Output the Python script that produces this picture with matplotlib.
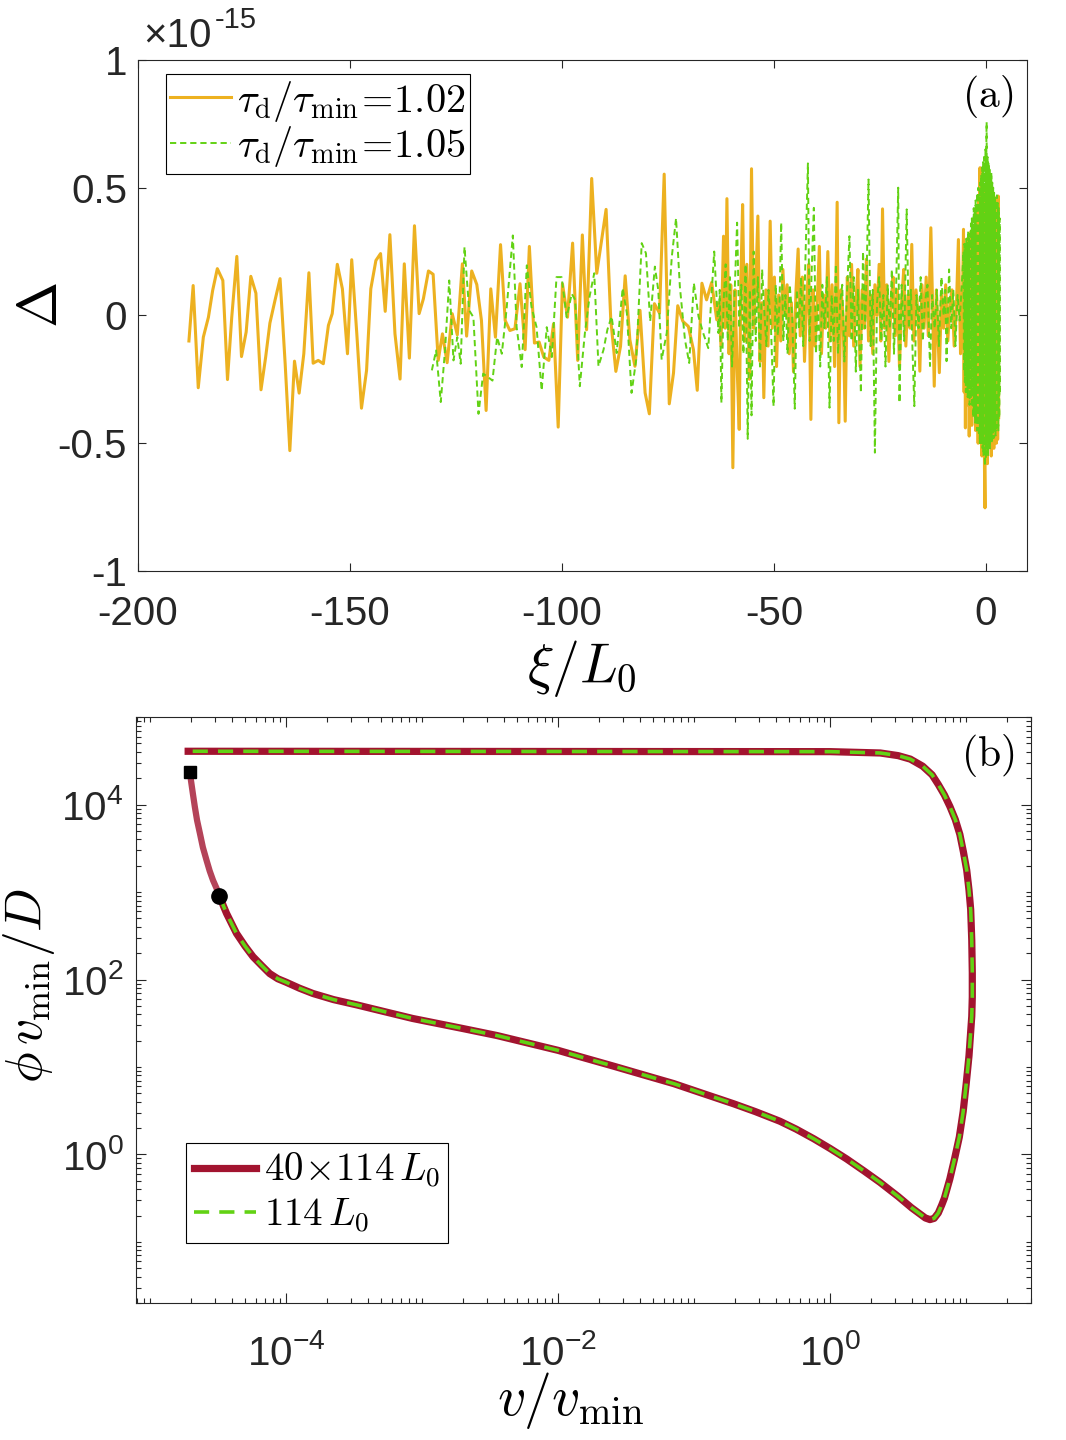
import numpy as np
import matplotlib
matplotlib.use('Agg')
import matplotlib.pyplot as plt
from matplotlib.ticker import FixedLocator, LogLocator, NullFormatter

plt.rcParams['font.family'] = ['Liberation Sans', 'DejaVu Sans']
plt.rcParams['mathtext.fontset'] = 'cm'

# ---- panel (a): residual Delta vs xi/L0 (values in units of 1e-15)
xi_102 = [
    -188.0, -187.0, -185.8, -184.6, -183.4, -182.4, -181.3, -180.0, -178.9, -177.9,
    -176.7, -175.6, -174.5, -173.4, -172.2, -171.0, -169.9, -168.9, -167.7, -166.5,
    -165.3, -164.2, -163.1, -162.0, -160.9, -159.7, -158.7, -157.5, -156.3, -155.1,
    -154.2, -153.0, -151.8, -150.6, -149.6, -148.4, -147.3, -146.1, -145.1, -143.9,
    -142.8, -141.7, -140.6, -139.4, -138.2, -137.2, -136.0, -134.8, -133.7, -132.7,
    -131.5, -130.4, -129.2, -128.2, -127.1, -125.9, -124.7, -123.5, -122.5, -121.3,
    -120.1, -119.0, -117.9, -116.8, -115.7, -114.5, -113.4, -112.3, -111.1, -109.9,
    -108.7, -107.7, -106.5, -105.4, -104.3, -103.1, -102.0, -100.9, -99.9, -98.7,
    -97.5, -96.3, -95.2, -94.2, -93.0, -91.8, -89.6, -88.5, -87.3, -86.2,
    -85.1, -84.0, -82.8, -81.6, -80.4, -79.4, -78.2, -77.0, -75.9, -74.7,
    -73.7, -72.7, -71.5, -70.2, -69.0, -68.1, -67.0, -65.9, -64.7, -63.5,
    -63.0, -62.5, -61.9, -61.5, -61.1, -60.6, -60.2, -59.7, -59.2, -58.7,
    -58.2, -57.8, -57.4, -56.9, -56.4, -55.8, -55.3, -54.8, -54.3, -53.8,
    -53.3, -52.8, -52.4, -51.9, -51.4, -50.9, -50.4, -49.9, -49.4, -48.9,
    -48.4, -47.9, -47.4, -46.9, -46.4, -45.9, -45.4, -44.8, -44.3, -43.8,
    -43.3, -42.8, -42.3, -41.8, -41.3, -40.8, -40.3, -39.8, -39.3, -38.8,
    -38.3, -37.8, -37.3, -36.8, -36.3, -35.7, -35.1, -34.7, -34.2, -33.7,
    -33.2, -32.7, -32.2, -31.7, -31.2, -30.7, -30.2, -29.7, -29.2, -28.7,
    -28.2, -27.7, -27.2, -26.7, -26.2, -25.7, -25.2, -24.8, -24.4, -23.9,
    -23.4, -22.9, -22.4, -21.9, -21.4, -20.9, -20.4, -19.9, -19.4, -18.9,
    -18.4, -17.9, -17.5, -17.0, -16.5, -16.0, -15.6, -15.1, -14.6, -14.1,
    -13.6, -13.0, -12.6, -12.2, -11.7, -11.0, -10.5, -10.0, -9.5, -9.0,
    -8.5, -8.0, -7.5, -7.0, -6.5, -6.0, -5.5,
    -5.3, -5.15, -5.0, -4.85, -4.7, -4.55, -4.4, -4.25, -4.1, -3.95,
    -3.8, -3.65, -3.5, -3.35, -3.2, -3.05, -2.9, -2.75, -2.6, -2.45,
    -2.3, -2.15, -2.0, -1.85, -1.7, -1.55, -1.4, -1.25, -1.1, -0.95,
    -0.8, -0.65, -0.5, -0.35, -0.23, -0.1, 0.05, 0.2, 0.35, 0.5,
    0.65, 0.8, 0.95, 1.1, 1.25, 1.4, 1.55, 1.7, 1.85, 2.0,
    2.15, 2.3, 2.45, 2.6, 2.75, 2.9, 3.0,
]
d_102 = [
    -0.100, 0.117, -0.283, -0.085, -0.007, 0.098, 0.183, 0.137, -0.251, -0.007,
    0.231, -0.161, -0.065, 0.153, 0.087, -0.291, -0.163, -0.030, 0.059, 0.144,
    -0.189, -0.529, -0.179, -0.304, -0.150, 0.167, -0.187, -0.176, -0.189, -0.039,
    0.007, 0.200, 0.104, -0.150, 0.218, -0.072, -0.363, -0.215, 0.104, 0.215,
    0.242, 0.016, 0.316, -0.072, -0.249, 0.202, -0.167, 0.351, 0.007, 0.065,
    0.174, 0.161, -0.176, -0.072, -0.185, 0.007, -0.076, 0.202, -0.081, 0.174,
    0.121, -0.020, -0.372, 0.104, -0.085, 0.277, -0.020, -0.059, -0.052, 0.124,
    -0.134, 0.270, -0.108, -0.104, -0.163, -0.176, -0.033, -0.437, 0.124, -0.007,
    0.283, -0.176, 0.315, -0.056, 0.536, 0.165, 0.415, -0.017, -0.219, -0.121,
    0.155, -0.095, -0.199, 0.020, -0.303, -0.385, 0.046, 0.009, 0.553, -0.346,
    -0.225, 0.038, -0.023, -0.043, -0.134, -0.293, 0.126, 0.061, 0.129, -0.017,
    0.05, -0.12, 0.31, -0.05, 0.457, -0.15, 0.12, -0.596, 0.10, -0.20,
    -0.446, 0.15, 0.434, -0.10, 0.20, -0.25, 0.574, -0.05, 0.12, 0.389,
    -0.18, 0.05, -0.322, 0.10, -0.12, 0.369, -0.05, 0.15, -0.20, 0.08,
    -0.10, 0.18, 0.00, 0.12, -0.15, 0.05, -0.22, 0.10, 0.26, -0.08,
    0.15, -0.18, 0.05, 0.20, -0.407, 0.10, -0.12, 0.05, 0.27, -0.15,
    0.08, -0.05, 0.25, -0.10, 0.12, -0.20, 0.443, -0.42, 0.10, 0.00,
    -0.414, 0.15, -0.08, 0.20, -0.12, 0.05, 0.18, -0.20, 0.10, -0.05,
    0.22, -0.10, 0.08, -0.15, 0.12, 0.00, 0.20, -0.10, 0.417, -0.05,
    0.12, -0.18, 0.05, 0.15, -0.08, 0.10, -0.20, 0.05, 0.18, -0.12,
    0.08, -0.05, 0.278, -0.10, 0.10, 0.00, -0.218, 0.12, -0.05, 0.15,
    -0.08, 0.343, 0.05, -0.277, 0.10, -0.224, 0.08, -0.05, 0.12, -0.10,
    0.05, 0.10, -0.12, 0.02, 0.297, -0.15, 0.10,
    0.337, -0.30, 0.20, -0.44, 0.25, -0.20, 0.30, -0.35, 0.15, -0.472,
    0.28, -0.25, 0.33, -0.43, 0.22, -0.30, 0.35, -0.38, 0.27, -0.45,
    0.40, -0.33, 0.30, -0.50, 0.45, -0.40, 0.578, -0.45, 0.42, -0.55,
    0.50, -0.48, 0.45, -0.60, -0.753, 0.48, -0.52, 0.50, -0.58, 0.44,
    -0.50, 0.52, -0.45, 0.48, -0.55, 0.42, -0.48, 0.45, -0.52, 0.40,
    -0.47, 0.46, -0.50, 0.44, -0.485, 0.467, -0.40,
]

xi_105 = [
    -130.7, -129.7, -128.6, -127.6, -126.6, -125.6, -124.7, -123.9, -123.0, -121.9,
    -120.9, -119.7, -118.6, -117.4, -116.4, -115.3, -114.2, -113.1, -111.6, -110.7,
    -109.5, -108.3, -107.2, -106.0, -104.8, -103.6, -102.4, -101.3, -100.1, -98.9,
    -97.7, -96.9, -95.8, -94.6, -93.5, -92.4, -91.4, -90.2, -89.3, -88.3,
    -87.1, -85.7, -84.7, -83.6, -82.5, -81.2, -80.2, -79.2, -78.1, -77.3,
    -76.5, -75.3, -74.1, -73.1, -72.2, -71.0, -70.0, -68.9, -67.8, -66.7,
    -65.5, -64.1, -63.1,
    -62.8, -62.4, -61.9, -61.4, -60.9, -60.4, -59.9, -59.3, -58.7, -58.2,
    -57.7, -57.2, -56.7, -56.2, -55.7, -55.3, -54.8, -54.3, -53.8, -53.3,
    -52.8, -52.3, -51.8, -51.3, -50.7, -50.1, -49.6, -49.1, -48.7, -48.3,
    -47.8, -47.3, -46.8, -46.3, -45.7, -45.1, -44.6, -44.1, -43.6, -43.1,
    -42.6, -42.0, -41.6, -41.1, -40.6, -40.1, -39.6, -39.1, -38.6, -38.1,
    -37.5, -36.9, -36.4, -35.9, -35.4, -34.9, -34.4, -33.9, -33.4, -32.8,
    -32.2, -31.7, -31.2, -30.7, -30.2, -29.5, -29.0, -28.5, -28.1, -27.7,
    -27.2, -26.7, -26.2, -25.7, -25.2, -24.7, -24.2, -23.7, -23.2, -22.7,
    -22.2, -21.7, -21.2, -20.7, -20.4, -19.9, -19.3, -18.7, -18.2, -17.7,
    -17.3, -16.9, -16.4, -15.9, -15.4, -14.9, -14.4, -13.8, -13.2, -12.7,
    -12.1, -11.6, -11.1, -10.5, -10.0, -9.6, -9.3, -8.7, -8.2, -7.7,
    -7.2, -6.7, -6.2, -5.7,
    -5.30, -5.19, -5.08, -4.97, -4.86, -4.75, -4.64, -4.53, -4.42, -4.31,
    -4.20, -4.09, -3.98, -3.87, -3.76, -3.65, -3.54, -3.43, -3.32, -3.21,
    -3.10, -2.99, -2.88, -2.77, -2.66, -2.55, -2.44, -2.33, -2.22, -2.11,
    -2.00, -1.89, -1.78, -1.67, -1.56, -1.45, -1.34, -1.23, -1.12, -1.01,
    -0.90, -0.79, -0.68, -0.57, -0.46, -0.35, -0.23, -0.12, -0.01, 0.10,
    0.16, 0.27, 0.38, 0.49, 0.60, 0.71, 0.82, 0.93, 1.04, 1.15,
    1.26, 1.37, 1.48, 1.59, 1.70, 1.81, 1.92, 2.03, 2.14, 2.25,
    2.36, 2.47, 2.58, 2.69, 2.80, 2.91, 3.02, 3.13, 3.24, 3.30,
]
d_105 = [
    -0.215, -0.137, -0.339, -0.137, 0.137, -0.176, -0.085, -0.189, 0.268, 0.020,
    -0.007, -0.385, -0.228, -0.242, -0.255, -0.085, -0.150, 0.020, 0.313, -0.046,
    -0.202, 0.196, 0.033, -0.046, -0.294, -0.046, -0.163, 0.150, 0.150, -0.007,
    0.085, 0.061, -0.277, -0.069, 0.074, 0.165, -0.199, -0.134, -0.056, -0.004,
    -0.147, 0.107, 0.009, -0.303, -0.173, 0.283, 0.243, -0.023, 0.191, 0.100,
    -0.173, -0.069, 0.230, 0.380, 0.113, -0.095, -0.186, 0.126, -0.004, -0.069,
    -0.128, 0.250, -0.069,
    0.10, -0.342, 0.05, 0.20, -0.10, 0.15, -0.20, 0.08, 0.363, -0.05,
    0.12, -0.15, 0.20, -0.483, 0.10, -0.391, 0.25, -0.10, 0.15, -0.20,
    0.18, 0.02, -0.12, 0.10, -0.05, -0.355, 0.12, -0.08, 0.05, 0.363,
    -0.10, 0.08, -0.15, 0.12, 0.00, -0.365, 0.10, -0.05, 0.15, -0.12,
    0.20, 0.595, -0.10, 0.18, 0.421, -0.15, 0.05, -0.20, 0.12, -0.05,
    0.15, -0.361, 0.08, -0.10, 0.20, -0.15, 0.05, 0.12, -0.18, 0.08,
    0.31, -0.10, 0.15, -0.22, 0.10, -0.303, 0.25, -0.05, 0.20, 0.532,
    -0.12, 0.10, -0.537, 0.05, 0.15, -0.10, 0.08, -0.20, 0.12, -0.05,
    0.18, -0.15, 0.10, 0.50, -0.342, 0.12, -0.10, 0.415, -0.05, 0.10,
    -0.15, -0.355, 0.08, -0.05, 0.15, -0.10, 0.05, 0.12, -0.198, 0.08,
    -0.05, 0.10, -0.12, 0.15, 0.00, 0.10, -0.179, 0.18, -0.05, 0.10,
    -0.12, 0.08, -0.02, 0.12,
    0.25, -0.22, 0.28, -0.26, 0.22, -0.30, 0.30, -0.25, 0.27, -0.32,
    0.33, -0.28, 0.30, -0.35, 0.32, -0.33, 0.36, -0.30, 0.38, -0.36,
    0.35, -0.40, 0.42, -0.38, 0.40, -0.42, 0.45, -0.40, 0.44, -0.45,
    0.48, -0.43, 0.50, -0.47, 0.46, -0.50, 0.52, -0.48, 0.55, -0.50,
    0.58, -0.52, 0.60, -0.55, 0.62, -0.54, -0.59, 0.65, -0.56, 0.70,
    0.757, -0.52, 0.62, -0.55, 0.60, -0.50, 0.58, -0.52, 0.55, -0.48,
    0.56, -0.50, 0.52, -0.46, 0.50, -0.48, 0.48, -0.45, 0.46, -0.47,
    0.45, -0.44, 0.47, -0.42, 0.44, -0.45, 0.42, -0.40, 0.38, -0.30,
]

# ---- panel (b): limit cycle in (v/vmin, phi vmin/D)
# transient from the initial state (square) to the circle
v_start = [1.98e-5, 2.00e-5, 2.07e-5, 2.14e-5, 2.22e-5, 2.33e-5, 2.45e-5,
           2.61e-5, 2.75e-5, 2.91e-5, 3.09e-5, 3.24e-5]
phi_start = [2.38e4, 1.91e4, 1.32e4, 9.33e3, 6.61e3, 4.68e3, 3.24e3,
             2.29e3, 1.74e3, 1.36e3, 1.10e3, 912]

# cycle, 40 x 114 L0 domain
v_long = [3.24e-5, 3.47e-5, 3.66e-5, 3.98e-5, 4.33e-5, 5.01e-5, 5.73e-5, 6.61e-5,
          7.59e-5, 8.71e-5, 1.0e-4, 1.26e-4, 1.58e-4, 2.24e-4, 3.31e-4, 5.37e-4,
          8.51e-4, 2.0e-3, 3.55e-3, 6.17e-3, 1.0e-2, 1.43e-2, 2.57e-2, 4.47e-2,
          7.08e-2, 0.105, 0.195, 0.282, 0.427, 0.562, 0.759, 1.0, 1.32, 1.78,
          2.33, 3.16, 3.98, 4.57, 5.01, 5.42, 5.82, 6.24, 6.61, 6.92, 7.59, 8.22,
          8.91, 9.51, 10.0, 10.5, 11.0, 11.1, 11.1, 11.0, 10.8, 10.5, 10.1, 9.55,
          8.99, 8.32, 7.59, 6.92, 6.24, 5.62, 4.79, 3.89, 3.16, 2.34, 1.0, 1.91e-5]
phi_long = [912, 692, 568, 437, 336, 240, 182, 145, 117, 102, 93.3, 79.4, 69.2,
            58.9, 51.3, 42.7, 35.9, 27.5, 22.9, 18.6, 15.5, 13.2, 10.2, 7.94,
            6.46, 5.25, 3.80, 3.09, 2.40, 1.95, 1.51, 1.17, 0.891, 0.646, 0.479,
            0.331, 0.245, 0.209, 0.188, 0.180, 0.186, 0.214, 0.263, 0.316, 0.525,
            0.891, 1.58, 3.09, 6.31, 13.5, 38.0, 63.1, 120, 282, 631, 1050, 1780,
            2880, 4570, 6760, 9550, 1.29e4, 1.70e4, 2.19e4, 2.75e4, 3.31e4,
            3.63e4, 3.89e4, 4.03e4, 4.07e4]

# cycle, 114 L0 domain
v_short = [3.24e-5, 3.47e-5, 3.66e-5, 3.98e-5, 4.33e-5, 5.01e-5, 5.73e-5, 6.61e-5,
           7.59e-5, 8.71e-5, 1.0e-4, 1.26e-4, 1.58e-4, 2.24e-4, 3.31e-4, 5.37e-4,
           8.51e-4, 2.0e-3, 3.55e-3, 6.17e-3, 1.0e-2, 1.43e-2, 2.57e-2, 4.47e-2,
           7.08e-2, 0.105, 0.195, 0.282, 0.427, 0.562, 0.759, 1.0, 1.32, 1.78,
           2.33, 3.16, 3.98, 4.57, 5.01, 5.42, 5.82, 6.24, 6.61, 6.92, 7.59, 8.22,
           8.91, 9.51, 10.0, 10.5, 11.0, 11.1, 11.1, 11.0, 10.8, 10.5, 10.1, 9.55,
           8.99, 8.32, 7.59, 6.92, 6.24, 5.62, 4.79, 3.89, 3.16, 2.34, 1.0, 2.02e-5]
phi_short = [912, 692, 568, 437, 336, 240, 182, 145, 117, 102, 93.3, 79.4, 69.2,
             58.9, 51.3, 42.7, 35.9, 27.5, 22.9, 18.6, 15.5, 13.2, 10.2, 7.94,
             6.46, 5.25, 3.80, 3.09, 2.40, 1.95, 1.51, 1.17, 0.891, 0.646, 0.479,
             0.331, 0.245, 0.209, 0.188, 0.180, 0.186, 0.214, 0.263, 0.316, 0.525,
             0.891, 1.58, 3.09, 6.31, 13.5, 38.0, 63.1, 120, 282, 631, 1050, 1780,
             2880, 4570, 6760, 9550, 1.29e4, 1.70e4, 2.19e4, 2.75e4, 3.31e4,
             3.63e4, 3.89e4, 4.03e4, 4.07e4]

orange = '#EDB120'
green = '#62D214'
red = '#A2142F'
axcol = '#262626'

fig = plt.figure(figsize=(10.66, 14.4), dpi=100)

# ---------------- (a)
ax1 = fig.add_axes([0.1295, 0.6035, 0.834, 0.3549])
ax1.plot(xi_102, d_102, color=orange, lw=2.2, label=r'$\tau_{\rm d}/\tau_{\rm min}\!=\!1.02$')
ax1.plot(xi_105, d_105, color=green, lw=1.4, dashes=(3.2, 2.0),
         label=r'$\tau_{\rm d}/\tau_{\rm min}\!=\!1.05$')
ax1.set_xlim(-200, 9.7)
ax1.set_ylim(-1, 1)
ax1.set_xticks([-200, -150, -100, -50, 0])
ax1.set_xticklabels(['-200', '-150', '-100', '-50', '0'])
ax1.set_yticks([-1, -0.5, 0, 0.5, 1])
ax1.set_yticklabels(['-1', '-0.5', '0', '0.5', '1'])
ax1.tick_params(direction='in', top=True, right=True, length=6, width=0.8,
                labelsize=29, colors=axcol)
ax1.tick_params(axis='x', pad=17)
ax1.tick_params(axis='y', pad=8)
ax1.set_xlabel(r'$\xi/L_0$', fontsize=40)
ax1.xaxis.label.set_va('center')
ax1.xaxis.set_label_coords(0.4994, -0.19)
ax1.set_ylabel(r'$\Delta$', fontsize=40)
ax1.yaxis.label.set_va('center')
ax1.yaxis.set_label_coords(-0.107, 0.52)
leg1 = ax1.legend(loc='upper left', bbox_to_anchor=(0.031, 0.973), fontsize=29,
                  frameon=True, fancybox=False, edgecolor='black', framealpha=1,
                  handlelength=1.5, handletextpad=0.15, borderpad=0.12,
                  labelspacing=0.02, borderaxespad=0)
leg1.get_frame().set_linewidth(0.8)
ax1.text(0.956, 0.928, r'$\mathrm{(a)}$', transform=ax1.transAxes, fontsize=30,
         ha='center', va='center')
fig.text(0.134, 0.975, '×10', fontsize=29, color=axcol, ha='left', va='center')
fig.text(0.2017, 0.986, '-15', fontsize=21, color=axcol, ha='left', va='center')

# ---------------- (b)
ax2 = fig.add_axes([0.1276, 0.0951, 0.8396, 0.4069])
ax2.set_xscale('log')
ax2.set_yscale('log')
ax2.plot(v_start, phi_start, color=red, lw=4.5, alpha=0.8, solid_capstyle='butt')
ax2.plot(v_long, phi_long, color=red, lw=5.2, label=r'$40\!\times\!114\,L_0$',
         solid_joinstyle='round')
ax2.plot(v_short, phi_short, color=green, lw=2.6, dashes=(4.2, 2.8),
         label=r'$114\,L_0$')
ax2.plot(v_start[0], phi_start[0], 's', color='black', ms=8)
ax2.plot(v_start[-1], phi_start[-1], 'o', color='black', ms=11)
ax2.set_xlim(7.9e-6, 30)
ax2.set_ylim(0.02, 1e5)
ax2.xaxis.set_major_locator(FixedLocator([1e-4, 1e-2, 1]))
ax2.yaxis.set_major_locator(FixedLocator([1, 1e2, 1e4]))
ax2.set_xticklabels([r'$\mathregular{10^{-4}}$', r'$\mathregular{10^{-2}}$',
                     r'$\mathregular{10^{0}}$'])
ax2.set_yticklabels([r'$\mathregular{10^{0}}$', r'$\mathregular{10^{2}}$',
                     r'$\mathregular{10^{4}}$'])
ax2.xaxis.set_minor_locator(LogLocator(base=10, subs=np.arange(1, 10), numticks=30))
ax2.yaxis.set_minor_locator(LogLocator(base=10, subs=np.arange(1, 10), numticks=30))
ax2.xaxis.set_minor_formatter(NullFormatter())
ax2.yaxis.set_minor_formatter(NullFormatter())
ax2.tick_params(which='both', direction='in', top=True, right=True, width=0.8,
                labelsize=29, colors=axcol)
ax2.tick_params(which='major', length=7)
ax2.tick_params(axis='x', which='major', pad=22)
ax2.tick_params(axis='y', which='major', pad=9)
ax2.tick_params(which='minor', length=3.5)
ax2.set_xlabel(r'$v/v_{\rm min}$', fontsize=40)
ax2.xaxis.label.set_va('center')
ax2.xaxis.set_label_coords(0.486, -0.1655)
ax2.set_ylabel(r'$\phi\,v_{\rm min}/D$', fontsize=37)
ax2.yaxis.label.set_va('center')
ax2.yaxis.set_label_coords(-0.1196, 0.5427)
leg2 = ax2.legend(loc='upper left', bbox_to_anchor=(0.056, 0.273), fontsize=28,
                  frameon=True, fancybox=False, edgecolor='black', framealpha=1,
                  handlelength=1.6, handletextpad=0.2, borderpad=0.2,
                  labelspacing=0.15, borderaxespad=0)
leg2.get_frame().set_linewidth(0.8)
ax2.text(0.952, 0.935, r'$\mathrm{(b)}$', transform=ax2.transAxes, fontsize=30,
         ha='center', va='center')

for ax in (ax1, ax2):
    for s in ax.spines.values():
        s.set_linewidth(0.8)
        s.set_color(axcol)

fig.savefig('out.png', dpi=100)
